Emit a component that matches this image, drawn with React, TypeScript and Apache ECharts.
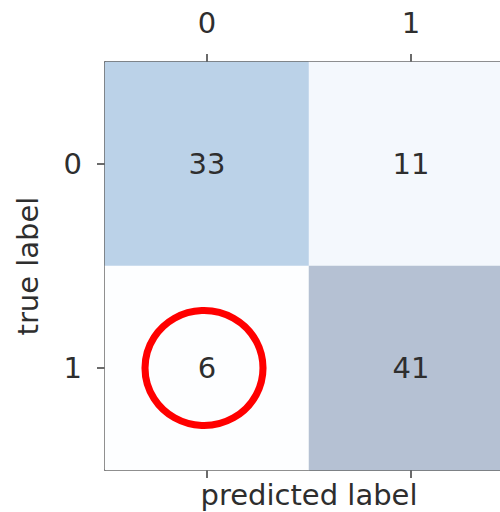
import React, { useEffect, useRef } from "react";
import * as echarts from "echarts";

const predictedLabels = ["0", "1"];
const trueLabels = ["0", "1"];
// rows = true label, columns = predicted label
const row0Counts = [33, 11];
const row1Counts = [6, 41];
const highlightedCell = [0, 1]; // [predicted index, true index]

const blendedBlues = [
  "#fdfeff", "#f5f9fd", "#eef4fa", "#e2eff6", "#d3e7f3",
  "#c6deee", "#bcd4e9", "#b5cbe1", "#b5c1d3",
];

const FONT = "DejaVu Sans";
const TEXT = "#2e2e2e";
const SPINE = "#3a3a3a";

export default function App() {
  const ref = useRef<HTMLDivElement>(null);
  useEffect(() => {
    document.body.style.margin = "0";
    const chart = echarts.init(ref.current!, null, { renderer: "svg" });
    const rows = [row0Counts, row1Counts];
    const data: number[][] = [];
    rows.forEach((r, yi) => r.forEach((v, xi) => data.push([xi, yi, v])));
    const all = data.map((d) => d[2]);
    chart.setOption({
      animation: false,
      grid: { left: 105, top: 62, width: 408, height: 408, containLabel: false, outerBoundsMode: "none" },
      visualMap: {
        show: false,
        seriesIndex: 0,
        min: Math.min(...all),
        max: Math.max(...all),
        inRange: { color: blendedBlues },
      },
      xAxis: [
        {
          type: "category",
          data: predictedLabels,
          position: "top",
          axisLine: { show: true, lineStyle: { color: SPINE, width: 1.5 } },
          axisTick: { show: true, alignWithLabel: true, length: 8, lineStyle: { color: SPINE, width: 1.5 } },
          axisLabel: { fontFamily: FONT, fontSize: 29, color: TEXT, margin: 25 },
          splitLine: { show: false },
        },
        {
          type: "category",
          data: predictedLabels,
          position: "bottom",
          name: "predicted label",
          nameLocation: "middle",
          nameGap: 10,
          nameTextStyle: { fontFamily: FONT, fontSize: 29, color: TEXT, verticalAlign: "top" },
          axisLine: { show: true, lineStyle: { color: SPINE, width: 1.5 } },
          axisTick: { show: true, alignWithLabel: true, length: 8, lineStyle: { color: SPINE, width: 1.5 } },
          axisLabel: { show: false },
          splitLine: { show: false },
        },
      ],
      yAxis: {
        type: "category",
        data: trueLabels,
        inverse: true,
        name: "true label",
        nameLocation: "middle",
        nameGap: 63,
        nameRotate: 90,
        nameTextStyle: { fontFamily: FONT, fontSize: 29, color: TEXT },
        axisLine: { show: true, lineStyle: { color: SPINE, width: 1.5 } },
        axisTick: { show: true, alignWithLabel: true, length: 8, lineStyle: { color: SPINE, width: 1.5 } },
        axisLabel: { fontFamily: FONT, fontSize: 29, color: TEXT, margin: 23 },
        splitLine: { show: false },
      },
      series: [
        {
          type: "heatmap",
          xAxisIndex: 0,
          yAxisIndex: 0,
          data,
          label: { show: true, fontFamily: FONT, fontSize: 29, color: TEXT },
          itemStyle: { borderWidth: 0 },
          emphasis: { disabled: true },
        },
        {
          type: "scatter",
          xAxisIndex: 0,
          yAxisIndex: 0,
          data: [highlightedCell],
          symbol: "circle",
          symbolSize: [118, 115],
          symbolOffset: [-3, 0],
          itemStyle: { color: "rgba(0,0,0,0)", borderColor: "#ff0000", borderWidth: 7, opacity: 1 },
          z: 10,
          silent: true,
        },
      ],
    });
    return () => chart.dispose();
  }, []);
  return <div ref={ref} style={{ position: "absolute", left: 0, top: 0, width: 500, height: 512 }} />;
}
